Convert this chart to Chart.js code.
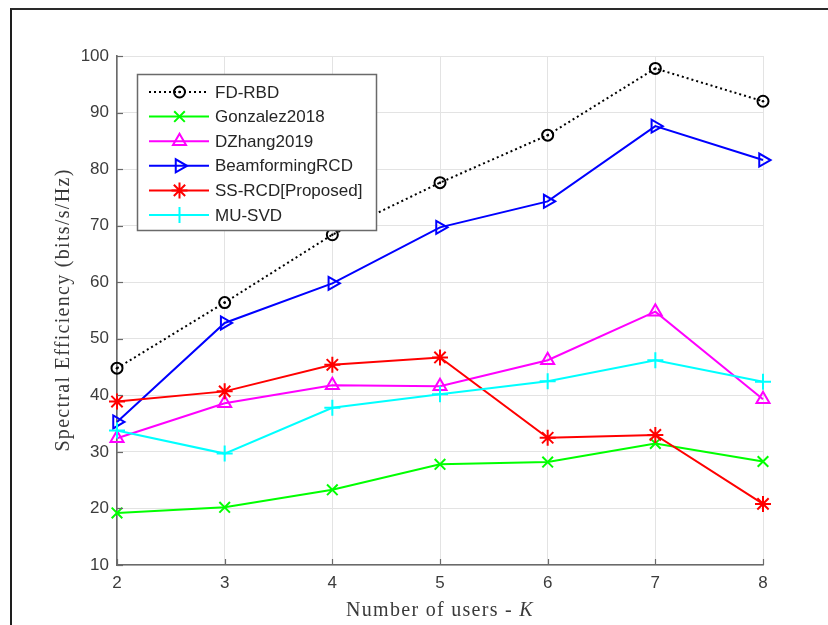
<!DOCTYPE html>
<html>
<head>
<meta charset="utf-8">
<script src="https://cdn.jsdelivr.net/npm/chart.js@4.4.1/dist/chart.umd.min.js"></script>
<style>
  html, body { margin: 0; padding: 0; background: #fff; }
  #wrap { position: relative; width: 828px; height: 625px; }
  #frame { position: absolute; left: 10px; top: 8px; right: -4px; bottom: -4px;
           border-left: 2px solid #1e1e1e; border-top: 2px solid #2a2a2a; pointer-events: none; }
</style>
</head>
<body>
<div id="wrap">
  <canvas id="seChart"></canvas>
  <div id="frame"></div>
</div>
<script>
const users = ['2', '3', '4', '5', '6', '7', '8'];
const yTicks = [10, 20, 30, 40, 50, 60, 70, 80, 90, 100];

const fdRbd       = [44.8, 56.4, 68.4, 77.6, 86.0, 97.8, 92.0];
const gonzalez    = [19.2, 20.2, 23.3, 27.8, 28.2, 31.5, 28.3];
const dzhang      = [32.4, 38.6, 41.8, 41.6, 46.2, 54.8, 39.3];
const beamRcd     = [35.3, 52.8, 59.8, 69.7, 74.3, 87.6, 81.6];
const ssRcd       = [38.9, 40.7, 45.4, 46.7, 32.5, 33.0, 20.8];
const muSvd       = [33.8, 29.7, 37.8, 40.2, 42.5, 46.2, 42.4];

const seriesNames = ['FD-RBD', 'Gonzalez2018', 'DZhang2019', 'BeamformingRCD', 'SS-RCD[Proposed]', 'MU-SVD'];

function lineSet(label, data, color, style, extra) {
  return Object.assign({
    label, data,
    borderColor: color,
    backgroundColor: 'rgba(0,0,0,0)',
    borderWidth: 2,
    pointStyle: style,
    pointRadius: 6,
    pointBorderWidth: 2,
    pointBorderColor: color,
    pointBackgroundColor: 'rgba(0,0,0,0)',
    tension: 0,
    clip: false
  }, extra || {});
}

const datasets = [
  lineSet(seriesNames[0], fdRbd, '#000000', 'circle', { borderDash: [2, 3], pointRadius: 5.5 }),
  lineSet(seriesNames[1], gonzalez, '#00ff00', 'crossRot', { pointRadius: 7.5 }),
  lineSet(seriesNames[2], dzhang, '#ff00ff', 'triangle', { pointRadius: 7.5 }),
  lineSet(seriesNames[3], beamRcd, '#0000ff', 'triangle', { pointRadius: 7.5, pointRotation: 90 }),
  lineSet(seriesNames[4], ssRcd, '#ff0000', 'star', { pointRadius: 8 }),
  lineSet(seriesNames[5], muSvd, '#00ffff', 'cross', { pointRadius: 8 })
];
// later series sit on top
datasets.forEach((d, i) => { d.order = datasets.length - i; });

const TICK_COLOR = '#3c3c3c';
const AXIS_COLOR = '#6a6a6a';

// inward tick marks, small centre dot on the circles, axis titles and boxed legend
const decorations = {
  id: 'decorations',
  afterDatasetsDraw(chart) {
    const ctx = chart.ctx;
    const area = chart.chartArea;
    const xs = chart.scales.x, ys = chart.scales.y;

    ctx.save();
    ctx.strokeStyle = AXIS_COLOR;
    ctx.lineWidth = 1.2;
    yTicks.forEach(v => {
      const py = Math.round(ys.getPixelForValue(v)) + 0.5;
      ctx.beginPath(); ctx.moveTo(area.left, py); ctx.lineTo(area.left + 6, py); ctx.stroke();
    });
    users.forEach((u, i) => {
      const px = Math.round(xs.getPixelForValue(i)) + 0.5;
      ctx.beginPath(); ctx.moveTo(px, area.bottom); ctx.lineTo(px, area.bottom - 6); ctx.stroke();
    });

    // centre dots of the FD-RBD circles
    const meta = chart.getDatasetMeta(0);
    ctx.fillStyle = '#000';
    meta.data.forEach(pt => {
      ctx.beginPath(); ctx.arc(pt.x, pt.y, 1.3, 0, Math.PI * 2); ctx.fill();
    });

    // legend
    const box = { x: 137, y: 74, w: 239, h: 156 };
    ctx.fillStyle = '#fff';
    ctx.fillRect(box.x, box.y, box.w, box.h);
    ctx.strokeStyle = '#6a6a6a';
    ctx.lineWidth = 1.5;
    ctx.strokeRect(box.x + 0.5, box.y + 0.5, box.w, box.h);
    ctx.font = '17px "Liberation Sans", Arial, sans-serif';
    ctx.textBaseline = 'middle';
    chart.data.datasets.forEach((ds, i) => {
      const cy = 92 + i * 24.6;
      ctx.save();
      ctx.strokeStyle = ds.borderColor;
      ctx.fillStyle = 'rgba(0,0,0,0)';
      ctx.lineWidth = ds.borderWidth;
      ctx.setLineDash(ds.borderDash || []);
      ctx.beginPath(); ctx.moveTo(149, cy); ctx.lineTo(209, cy); ctx.stroke();
      ctx.setLineDash([]);
      ctx.lineWidth = ds.pointBorderWidth;
      Chart.helpers.drawPoint(ctx, {
        pointStyle: ds.pointStyle,
        rotation: ds.pointRotation || 0,
        radius: ds.pointRadius,
        borderWidth: ds.pointBorderWidth
      }, 179.5, cy);
      if (i === 0) {
        ctx.fillStyle = '#000';
        ctx.beginPath(); ctx.arc(179.5, cy, 1.3, 0, Math.PI * 2); ctx.fill();
      }
      ctx.restore();
      ctx.fillStyle = '#262626';
      ctx.fillText(ds.label, 215, cy + 1);
    });

    // axis titles
    ctx.fillStyle = '#3a3a3a';
    ctx.letterSpacing = '1.3px';
    ctx.textBaseline = 'alphabetic';
    const lead = 'Number of users - ';
    ctx.font = '20px "Liberation Serif", serif';
    const w1 = ctx.measureText(lead).width;
    ctx.font = 'italic 20px "Liberation Serif", serif';
    const w2 = ctx.measureText('K').width;
    const tx = 440 - (w1 + w2) / 2;
    ctx.font = '20px "Liberation Serif", serif';
    ctx.textAlign = 'left';
    ctx.fillText(lead, tx, 616);
    ctx.font = 'italic 20px "Liberation Serif", serif';
    ctx.fillText('K', tx + w1, 616);

    ctx.translate(69, 310);
    ctx.rotate(-Math.PI / 2);
    ctx.font = '20px "Liberation Serif", serif';
    ctx.textAlign = 'center';
    ctx.fillText('Spectral Efficiency (bits/s/Hz)', 0, 0);
    ctx.restore();
  }
};

new Chart(document.getElementById('seChart'), {
  type: 'line',
  data: { labels: users, datasets },
  plugins: [decorations],
  options: {
    responsive: true,
    maintainAspectRatio: false,
    devicePixelRatio: 1,
    animation: false,
    layout: { padding: { left: 0, top: 56, right: 65, bottom: 0 } },
    plugins: { legend: { display: false }, tooltip: { enabled: false } },
    scales: {
      x: {
        offset: false,
        grid: { color: '#e3e3e3', lineWidth: 1, drawTicks: false },
        border: { color: AXIS_COLOR, width: 1.6 },
        ticks: { color: TICK_COLOR, font: { family: '"Liberation Sans", Arial, sans-serif', size: 17 }, padding: 8, maxRotation: 0 },
        afterFit(scale) { scale.height = 60; }
      },
      y: {
        min: 10, max: 100,
        grid: { color: '#e3e3e3', lineWidth: 1, drawTicks: false },
        border: { color: AXIS_COLOR, width: 1.6 },
        ticks: { stepSize: 10, color: TICK_COLOR, font: { family: '"Liberation Sans", Arial, sans-serif', size: 17 }, padding: 8 },
        afterFit(scale) { scale.width = 117; }
      }
    }
  }
});
</script>
</body>
</html>
